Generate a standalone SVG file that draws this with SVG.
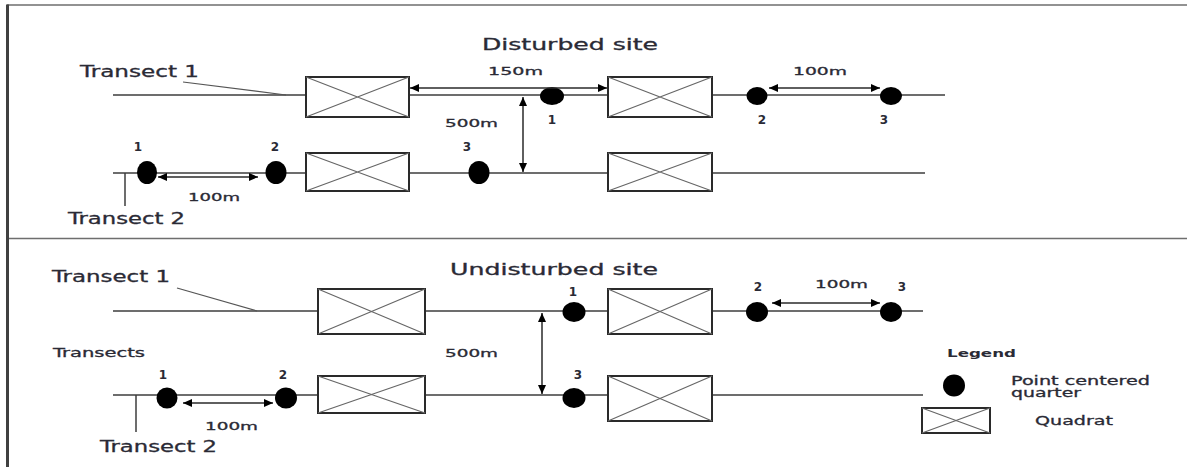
<svg xmlns="http://www.w3.org/2000/svg" width="1187" height="467" viewBox="0 0 1187 467">
  <style>
    text { font-family: "DejaVu Sans", "Liberation Sans", sans-serif; fill: #2a2a35; stroke: #2a2a35; stroke-width: 0.3; }
    .t15 { font-size: 15px; }
    .t12 { font-size: 12px; }
    .t11 { font-size: 11px; }
    .num { font-size: 12px; text-anchor: middle; font-weight: bold; stroke-width: 0; }
    .bold { font-weight: bold; stroke-width: 0; }
    .line { stroke: #3c3c3c; stroke-width: 1.5; fill: none; }
    .thin { stroke: #555; stroke-width: 1.2; fill: none; }
    .quad { fill: #fff; stroke: #2a2a2a; stroke-width: 2; }
    .cross { stroke: #666; stroke-width: 1.2; }
    .dot { fill: #000; }
    .dim { stroke: #2a2a2a; stroke-width: 1.5; fill: none; marker-start: url(#head); marker-end: url(#head); }
    .frame { stroke: #6e6e6e; stroke-width: 1.6; fill: none; }
  </style>
  <defs>
    <marker id="head" markerUnits="userSpaceOnUse" markerWidth="10" markerHeight="8" refX="9" refY="4" orient="auto-start-reverse">
      <path d="M0,0 L9,4 L0,8 Z" fill="#000"/>
    </marker>
  </defs>

  <rect width="1187" height="467" fill="#fff"/>

  <!-- frame and panel divider -->
  <g id="frame">
    <line class="frame" x1="7" y1="5" x2="1187" y2="5"/>
    <line class="frame" x1="7" y1="238.5" x2="1187" y2="238.5"/>
    <line x1="7.5" y1="4.5" x2="7.5" y2="467" stroke="#404040" stroke-width="3"/>
  </g>

  <!-- ===== Disturbed site ===== -->
  <g id="transect-lines-disturbed">
    <line class="line" x1="113" y1="95" x2="945" y2="95"/>
    <line class="line" x1="113" y1="173" x2="925" y2="173"/>
    <line class="thin" x1="183" y1="82" x2="286" y2="95"/>
    <line class="line" x1="125" y1="173" x2="125" y2="206"/>
  </g>

  <g id="d-quadrat-1">
    <rect class="quad" x="306" y="77" width="103" height="40"/>
    <path class="cross" d="M306,77 L409,117 M306,117 L409,77"/>
  </g>
  <g id="d-quadrat-2">
    <rect class="quad" x="608" y="77" width="104" height="40"/>
    <path class="cross" d="M608,77 L712,117 M608,117 L712,77"/>
  </g>
  <g id="d-quadrat-3">
    <rect class="quad" x="306" y="153" width="103" height="38"/>
    <path class="cross" d="M306,153 L409,191 M306,191 L409,153"/>
  </g>
  <g id="d-quadrat-4">
    <rect class="quad" x="608" y="153" width="104" height="38"/>
    <path class="cross" d="M608,153 L712,191 M608,191 L712,153"/>
  </g>

  <g id="d-points">
    <ellipse class="dot" cx="552" cy="96" rx="12" ry="9"/>
    <ellipse class="dot" cx="757" cy="96" rx="10.5" ry="9"/>
    <ellipse class="dot" cx="891" cy="96" rx="11" ry="9"/>
    <ellipse class="dot" cx="147" cy="172.5" rx="10" ry="11.5"/>
    <ellipse class="dot" cx="276" cy="172.5" rx="10.5" ry="11.5"/>
    <ellipse class="dot" cx="479" cy="172.5" rx="10.5" ry="11.5"/>
  </g>

  <g id="d-connectors">
    <line class="dim" x1="410" y1="88" x2="607" y2="88"/>
    <line class="dim" x1="769" y1="88" x2="880" y2="88"/>
    <line class="dim" x1="523" y1="97" x2="523" y2="172"/>
    <line class="dim" x1="158" y1="177" x2="258" y2="177"/>
  </g>

  <g id="d-labels">
    <text class="t15" x="482" y="50" textLength="176" lengthAdjust="spacingAndGlyphs">Disturbed site</text>
    <text class="t15" x="80" y="77" textLength="119" lengthAdjust="spacingAndGlyphs">Transect 1</text>
    <text class="t15" x="68" y="224" textLength="117" lengthAdjust="spacingAndGlyphs">Transect 2</text>
    <text class="t11" x="488" y="75" textLength="55" lengthAdjust="spacingAndGlyphs">150m</text>
    <text class="t11" x="793" y="75" textLength="54" lengthAdjust="spacingAndGlyphs">100m</text>
    <text class="t11" x="445" y="126.5" textLength="53" lengthAdjust="spacingAndGlyphs">500m</text>
    <text class="t11" x="188" y="201" textLength="52" lengthAdjust="spacingAndGlyphs">100m</text>
    <text class="num" x="552" y="124">1</text>
    <text class="num" x="762" y="124">2</text>
    <text class="num" x="884" y="124">3</text>
    <text class="num" x="138" y="151">1</text>
    <text class="num" x="275" y="151">2</text>
    <text class="num" x="467" y="151">3</text>
  </g>

  <!-- ===== Undisturbed site ===== -->
  <g id="transect-lines-undisturbed">
    <line class="line" x1="113" y1="311" x2="923" y2="311"/>
    <line class="line" x1="113" y1="395" x2="923" y2="395"/>
    <line class="thin" x1="177" y1="288" x2="257" y2="311"/>
    <line class="line" x1="136" y1="395" x2="136" y2="432"/>
  </g>

  <g id="u-quadrat-1">
    <rect class="quad" x="318" y="289" width="107" height="45"/>
    <path class="cross" d="M318,289 L425,334 M318,334 L425,289"/>
  </g>
  <g id="u-quadrat-2">
    <rect class="quad" x="608" y="289" width="104" height="45"/>
    <path class="cross" d="M608,289 L712,334 M608,334 L712,289"/>
  </g>
  <g id="u-quadrat-3">
    <rect class="quad" x="318" y="376" width="107" height="37"/>
    <path class="cross" d="M318,376 L425,413 M318,413 L425,376"/>
  </g>
  <g id="u-quadrat-4">
    <rect class="quad" x="608" y="376" width="104" height="45"/>
    <path class="cross" d="M608,376 L712,421 M608,421 L712,376"/>
  </g>

  <g id="u-points">
    <ellipse class="dot" cx="574" cy="312" rx="11.5" ry="10"/>
    <ellipse class="dot" cx="757" cy="312" rx="11" ry="10"/>
    <ellipse class="dot" cx="891" cy="312" rx="11" ry="10"/>
    <ellipse class="dot" cx="574" cy="398" rx="11.5" ry="10"/>
    <ellipse class="dot" cx="167" cy="398" rx="10.5" ry="10.5"/>
    <ellipse class="dot" cx="286" cy="398" rx="11" ry="10.5"/>
  </g>

  <g id="u-connectors">
    <line class="dim" x1="542" y1="313" x2="542" y2="394"/>
    <line class="dim" x1="772" y1="303" x2="880" y2="303"/>
    <line class="dim" x1="183" y1="403" x2="273" y2="403"/>
  </g>

  <g id="u-labels">
    <text class="t15" x="450" y="275" textLength="208" lengthAdjust="spacingAndGlyphs">Undisturbed site</text>
    <text class="t15" x="52" y="282" textLength="118" lengthAdjust="spacingAndGlyphs">Transect 1</text>
    <text class="t12" x="53" y="357" textLength="92" lengthAdjust="spacingAndGlyphs">Transects</text>
    <text class="t15" x="100" y="452" textLength="117" lengthAdjust="spacingAndGlyphs">Transect 2</text>
    <text class="t11" x="445" y="357" textLength="53" lengthAdjust="spacingAndGlyphs">500m</text>
    <text class="t11" x="815" y="288" textLength="53" lengthAdjust="spacingAndGlyphs">100m</text>
    <text class="t11" x="205" y="430" textLength="53" lengthAdjust="spacingAndGlyphs">100m</text>
    <text class="num" x="573" y="296">1</text>
    <text class="num" x="758" y="291">2</text>
    <text class="num" x="902" y="291">3</text>
    <text class="num" x="163" y="379">1</text>
    <text class="num" x="283" y="379">2</text>
    <text class="num" x="578" y="379">3</text>
  </g>

  <!-- legend -->
  <g id="legend">
    <text class="t11 bold" x="947" y="357" textLength="69" lengthAdjust="spacingAndGlyphs">Legend</text>
    <ellipse class="dot" cx="954" cy="385.5" rx="11" ry="11"/>
    <text class="t12" x="1011" y="385" textLength="139" lengthAdjust="spacingAndGlyphs">Point centered</text>
    <text class="t12" x="1011" y="397" textLength="70" lengthAdjust="spacingAndGlyphs">quarter</text>
    <rect class="quad" x="922" y="408" width="68" height="25"/>
    <path class="cross" d="M922,408 L990,433 M922,433 L990,408"/>
    <text class="t12" x="1035" y="425" textLength="78" lengthAdjust="spacingAndGlyphs">Quadrat</text>
  </g>
</svg>
